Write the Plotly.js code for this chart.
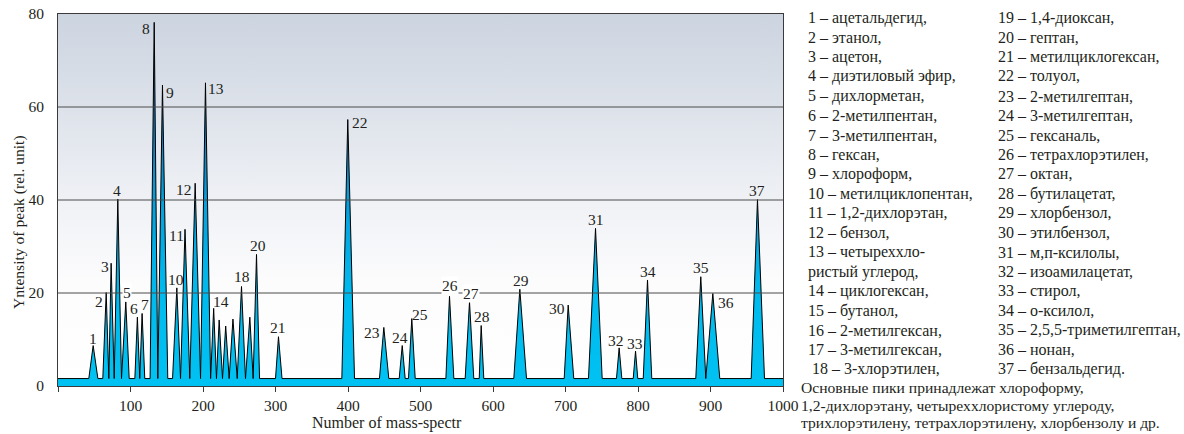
<!DOCTYPE html>
<html>
<head>
<meta charset="utf-8">
<script src="https://cdn.plot.ly/plotly-3.0.1.min.js"></script>
<style>html,body{margin:0;padding:0;background:#fff;}#chart{width:1184px;height:434px;}</style>
</head>
<body>
<div id="chart"></div>
<script>
// ---------------- DATA ----------------
const peakNumbers = [1,2,3,4,5,6,7,8,9,10,11,12,13,14,15,16,17,18,19,20,21,22,23,24,25,26,27,28,29,30,31,32,33,34,35,36,37];
const peakPos    = [48.5,66.5,73.3,82.5,93.5,109.5,116,132.7,144.1,163.9,175.2,189.2,203.4,214.7,222.3,231.3,241.3,253.1,264.6,273.8,304.1,399.7,449.4,474.8,488,540,567.6,583.7,637,703.7,741.4,774,796.6,813.1,886.6,903.2,964.8];
const peakHeight = [8.7,20.1,26.4,40.2,18.1,14.8,15.6,78.2,64.7,21.1,33.7,43.6,65.2,16.7,14.2,12.9,14.4,21.4,14.8,28.3,10.6,57.3,12.6,8.7,14.5,19.3,18.1,13,20.8,17.4,33.9,8.2,7.5,22.8,23.5,19.9,40.1];
const peakStart  = [42.5,61.8,70.1,77.5,87.6,106,112.8,127,137.7,158,169,181.8,196.6,210.5,218.6,226.9,236.1,247.2,258.6,269.2,300,391.5,443.4,470.6,483.4,535,561.6,581,628.7,698.2,731.7,770.3,793.4,807.2,879.7,893.5,956.1];
const peakEnd    = [55,70.1,77.5,87.6,98.2,112.8,119.7,137.7,151.4,169,181.8,196.6,210.5,218.6,226.9,236.1,247.2,258.6,269.2,278,309,409,456.3,478.9,492.7,546,573.5,587.3,646.2,711.4,750.6,777.7,799.7,819,893.5,912.8,974.5];
const baselineLevel = 1.6;
const xRange = [0, 1000];
const yRange = [0, 80];
const xTicks = [0,100,200,300,400,500,600,700,800,900,1000];
const xTickText = ['','100','200','300','400','500','600','700','800','900','1000'];
const yTicks = [0,20,40,60,80];
const labelledPeaks = [1,2,3,4,5,6,7,8,9,10,11,12,13,14,18,20,21,22,23,24,25,26,27,28,29,30,31,32,33,34,35,36,37];
const compoundNames = ['ацетальдегид','этанол','ацетон','диэтиловый эфир','дихлорметан','2-метилпентан','3-метилпентан','гексан','хлороформ','метилциклопентан','1,2-дихлорэтан','бензол','четыреххлористый углерод','циклогексан','бутанол','2-метилгексан','3-метилгексан','3-хлорэтилен','1,4-диоксан','гептан','метилциклогексан','толуол','2-метилгептан','3-метилгептан','гексаналь','тетрахлорэтилен','октан','бутилацетат','хлорбензол','этилбензол','м,п-ксилолы','изоамилацетат','стирол','о-ксилол','2,5,5-триметилгептан','нонан','бензальдегид'];
const noteLines = ['Основные пики принадлежат хлороформу,','1,2-дихлорэтану, четыреххлористому углероду,','трихлорэтилену, тетрахлорэтилену, хлорбензолу и др.'];
const xTitle = 'Number of mass-spectr';
const yTitle = 'Yntensity of peak (rel. unit)';

// ---------------- STYLE / POSITIONS ----------------
const FONT = 'Liberation Serif, Times New Roman, serif';
const TXT = '#231f20';
const L = 58, R = 783, T = 14, B = 386, W = 1184, H = 434;
const px2x = p => (p - L) / (R - L);
const px2y = p => (B - p) / (B - T);
// label offsets (px) from apex: [dx, dy(up)]
const labelOffsets = {1:[0,7],2:[-7,-9],3:[-6,-3],4:[-1,9],5:[1,9],6:[-3,9],7:[3,9],8:[-8,-6],9:[8,-7],10:[-1,8],11:[-9,-6],12:[-11,-6],13:[11,-6],14:[7,7],18:[0,10],20:[1,9],21:[0,9],22:[12,-3],23:[-12,-5],24:[-2,8],25:[8,4],26:[0,11],27:[1,8],28:[1,9],29:[1,9],30:[-11,-3],31:[0,9],32:[-3,7],33:[-1,8],34:[0,8],35:[0,9],36:[13,-9],37:[0,9]};
const labelWithBg = [5,26,27];

// ---------------- BUILD TRACE ----------------
const xs = [xRange[0]], ys = [baselineLevel];
for (let i = 0; i < peakPos.length; i++) {
  xs.push(peakStart[i], peakPos[i], peakEnd[i]);
  ys.push(baselineLevel, peakHeight[i], baselineLevel);
}
xs.push(xRange[1]); ys.push(baselineLevel);

const trace = {
  x: xs, y: ys, type: 'scatter', mode: 'lines',
  line: {color: '#000', width: 1},
  fill: 'tozeroy',
  fillcolor: '#00bff0',
  fillgradient: {type: 'vertical', start: 0, stop: 80,
    colorscale: [[0,'#00c2f2'],[0.25,'#00baee'],[0.5,'#069fdc'],[0.75,'#1670b2'],[1,'#143456']]},
  hoverinfo: 'skip', showlegend: false
};

const bgSvg = '<svg xmlns="http://www.w3.org/2000/svg" width="100" height="100" preserveAspectRatio="none"><defs><linearGradient id="g" x1="0" y1="0" x2="0" y2="1"><stop offset="0" stop-color="#ccd4e0"/><stop offset="0.25" stop-color="#dde2ea"/><stop offset="0.5" stop-color="#eff1f5"/><stop offset="0.72" stop-color="#fcfcfd"/><stop offset="1" stop-color="#ffffff"/></linearGradient></defs><rect width="100" height="100" fill="url(#g)"/></svg>';

const annotations = [];
labelledPeaks.forEach(n => {
  const i = peakNumbers.indexOf(n);
  const off = labelOffsets[n];
  annotations.push({x: peakPos[i], y: peakHeight[i], xref: 'x', yref: 'y', text: String(n), showarrow: false,
    xanchor: 'center', yanchor: 'middle', xshift: off[0], yshift: off[1],
    bgcolor: labelWithBg.includes(n) ? '#ffffff' : 'rgba(0,0,0,0)', borderpad: 0,
    font: {family: FONT, size: 15.5, color: TXT}});
});

// legend lines
const legendLines1 = [], legendLines2 = [];
compoundNames.forEach((nm, i) => {
  const num = i + 1;
  const end = num === 37 ? '.' : ',';
  if (num === 13) {
    legendLines1.push('13 – четыреххло-');
    legendLines1.push('ристый углерод,');
  } else if (num <= 18) {
    legendLines1.push((num === 18 ? '\u00a0' : '') + num + ' – ' + nm + end);
  } else {
    legendLines2.push(num + ' – ' + nm + end);
  }
});
const LEGF = 16;
const legY0 = 18, legStep = 19.5;
legendLines1.forEach((t, k) => annotations.push({x: px2x(806), y: px2y(legY0 + k * legStep), xref: 'paper', yref: 'paper',
  text: t, showarrow: false, xanchor: 'left', yanchor: 'middle', font: {family: FONT, size: LEGF, color: TXT}}));
legendLines2.forEach((t, k) => annotations.push({x: px2x(996), y: px2y(legY0 + k * legStep), xref: 'paper', yref: 'paper',
  text: t, showarrow: false, xanchor: 'left', yanchor: 'middle', font: {family: FONT, size: LEGF, color: TXT}}));
noteLines.forEach((t, k) => annotations.push({x: px2x(799), y: px2y(387 + k * 18), xref: 'paper', yref: 'paper',
  text: t, showarrow: false, xanchor: 'left', yanchor: 'middle', font: {family: FONT, size: 15.6, color: TXT}}));

// axis titles
annotations.push({x: px2x(387), y: px2y(423), xref: 'paper', yref: 'paper', text: xTitle, showarrow: false,
  xanchor: 'center', yanchor: 'middle', font: {family: FONT, size: 16, color: TXT}});
annotations.push({x: px2x(19), y: px2y(222), xref: 'paper', yref: 'paper', text: yTitle, showarrow: false, textangle: -90,
  xanchor: 'center', yanchor: 'middle', font: {family: FONT, size: 15.6, color: TXT}});

const shapes = [20, 40, 60].map(v => ({type: 'line', xref: 'paper', yref: 'y', x0: 0, x1: 1, y0: v, y1: v,
  line: {color: '#4a4a4a', width: 1}, layer: 'above'}));

const layout = {
  width: W, height: H,
  margin: {l: L, r: W - R, t: T, b: H - B, pad: 0},
  paper_bgcolor: '#ffffff', plot_bgcolor: '#ffffff',
  showlegend: false,
  font: {family: FONT, size: 15, color: TXT},
  xaxis: {range: xRange, tickmode: 'array', tickvals: xTicks, ticktext: xTickText,
    showgrid: false, zeroline: false, showline: true, mirror: true, linecolor: '#3a3a3a', linewidth: 1,
    ticks: 'outside', ticklen: 5, tickcolor: '#3a3a3a', tickfont: {family: FONT, size: 15.5, color: TXT}, fixedrange: true},
  yaxis: {range: yRange, tickmode: 'array', tickvals: yTicks,
    showgrid: false, zeroline: false, showline: true, mirror: true, linecolor: '#3a3a3a', linewidth: 1,
    ticks: '', ticklabelstandoff: 10, tickfont: {family: FONT, size: 15.5, color: TXT}, fixedrange: true},
  images: [{source: 'data:image/svg+xml;charset=utf-8,' + encodeURIComponent(bgSvg), xref: 'paper', yref: 'paper',
    x: 0, y: 1, sizex: 1, sizey: 1, sizing: 'stretch', xanchor: 'left', yanchor: 'top', layer: 'below'}],
  shapes: shapes,
  annotations: annotations
};

Plotly.newPlot('chart', [trace], layout, {displayModeBar: false, staticPlot: true});
</script>
</body>
</html>
